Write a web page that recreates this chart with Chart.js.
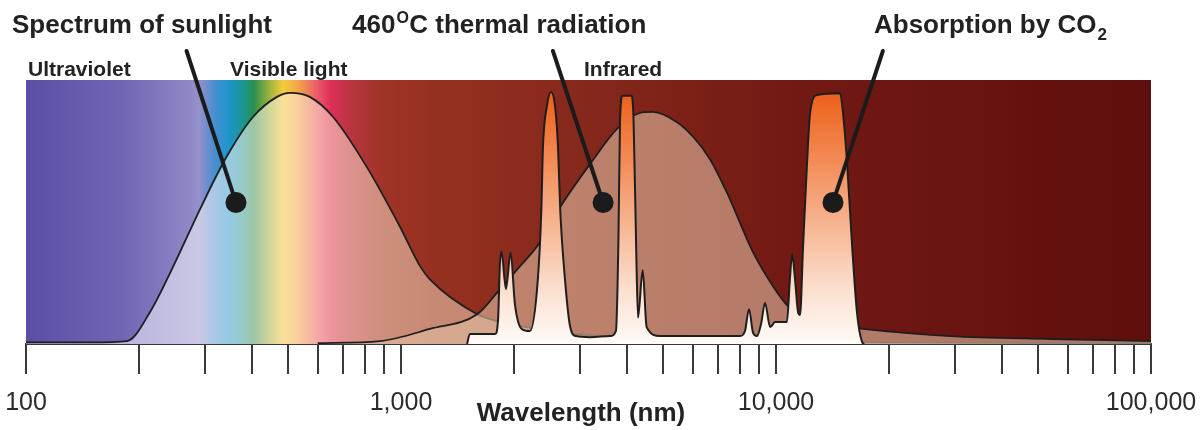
<!DOCTYPE html>
<html>
<head>
<meta charset="utf-8">
<title>Spectrum of sunlight</title>
<script src="https://cdn.jsdelivr.net/npm/chart.js@4.4.1/dist/chart.umd.min.js"></script>
<style>
  html, body { margin: 0; padding: 0; background: #fff; }
  #wrap { width: 1201px; height: 430px; }
</style>
</head>
<body>
<div id="wrap"><canvas id="spectrumChart" width="1201" height="430"></canvas></div>
<script>
// wavelengths in nm, heights in % of the coloured band
const sunWavelength = [100, 150, 186, 214, 247, 291, 343, 403, 467, 506, 571, 659, 811, 993, 1125, 1194, 1596, 1803, 2500, 3400, 6300, 20000, 100000];
const sunValue      = [0.6, 0.6, 1.1, 12, 29.4, 51, 71, 86, 93.6, 95.1, 93.6, 86, 67, 44.5, 29.4, 24.5, 11.3, 8.7, 5, 3, 1.5, 0.6, 0.3];

const thermalWavelength = [600, 879, 1194, 1596, 1837, 2075, 2306, 2706, 3254, 3767, 4337, 4697, 5445, 6010, 6668, 7396, 8688, 9817, 10765, 11590, 13930, 17070, 29100, 53800, 100000];
const thermalValue      = [0.3, 1.1, 5.7, 11.3, 20.8, 29.4, 37, 53.6, 69.8, 81.5, 87.5, 87.9, 84, 78.5, 70, 57.4, 34.7, 21.9, 14.3, 11, 7.5, 5.7, 3, 1.9, 1.1];

const absorbWavelength = [1500, 1527, 1546, 1783, 1816, 1835, 1853, 1905, 1960, 2013, 2098, 2207, 2317, 2366, 2391, 2449, 2512, 2576, 2622, 2660, 2737, 2823, 2929, 3191, 3608, 3743, 3801, 3838, 3896, 4118, 4170, 4233, 4285, 4411, 4519, 4909, 6266, 7100, 8020, 8265, 8472, 8688, 8896, 9120, 9349, 9647, 9943, 10690, 10890, 11040, 11240, 11450, 11590, 11810, 12100, 12330, 12860, 14820, 15090, 15470, 15960, 16440, 16960, 17190];
const absorbValue      = [0, 3.8, 3.8, 3.8, 10, 30, 35, 20.8, 34.7, 15, 5.7, 4.9, 24.5, 50, 74.7, 90, 95.5, 90, 74.7, 50, 24.5, 6.8, 3, 2.6, 3, 5, 40, 85, 94, 94, 85, 40, 10, 28, 6.4, 3, 3, 3, 3, 4.9, 13.2, 4.2, 3, 7.5, 15.5, 6.4, 8.3, 8.3, 24.5, 34, 24.5, 12, 11, 37, 68.7, 87.5, 94.3, 95, 87.5, 68.7, 37, 12, 0.8, 0];

const tickValues = [100, 200, 300, 400, 500, 600, 700, 800, 900, 1000, 2000, 3000, 4000, 5000, 6000, 7000, 8000, 9000, 10000, 20000, 30000, 40000, 50000, 60000, 70000, 80000, 90000, 100000];
const majorTicks = [100, 1000, 10000, 100000];
const majorLabels = ['100', '1,000', '10,000', '100,000'];

// colours of the band behind the curves, keyed by wavelength
const bandStops = [
  [100, '#5a4ea4'], [180, '#7066b4'], [250, '#8780c2'], [290, '#958fca'],
  [315, '#4f8ecf'], [345, '#1f95cf'], [380, '#1a9690'], [405, '#2b8e4c'],
  [440, '#8fae40'], [485, '#f4cd3a'], [530, '#f2a64a'], [600, '#ea586a'],
  [650, '#de2f5a'], [730, '#bb3540'], [900, '#9e3426'], [1300, '#94301f'],
  [3000, '#86281c'], [10000, '#741a14'], [100000, '#5e0e0c']
];

// tint of the sunlight curve, keyed by wavelength
const sunTint = [
  [180, 'rgba(243, 242, 254, 0.56)'],
  [320, 'rgba(248, 246, 250, 0.55)'],
  [500, 'rgba(254, 241, 225, 0.55)'],
  [800, 'rgba(252, 228, 208, 0.52)'],
  [1200, 'rgba(250, 225, 200, 0.5)']
];

const FONT = '"Liberation Sans", Arial, Helvetica, sans-serif';

// label pointers: from (wavelength, height) to the dot
const pointers = [
  { from: [268, 111], to: [363, 53.6] },
  { from: [2541, 111], to: [3459, 53.6] },
  { from: [19280, 111], to: [14190, 53.6] }
];

const toPoints = (xs, ys) => xs.map((x, i) => ({ x, y: ys[i] }));

function absorbGradient(context) {
  const chart = context.chart;
  const a = chart.chartArea;
  if (!a) return '#f6a878';
  const g = chart.ctx.createLinearGradient(0, a.top, 0, a.bottom);
  g.addColorStop(0, '#ea5a18');
  g.addColorStop(0.08, '#ee6520');
  g.addColorStop(0.45, '#f5a47a');
  g.addColorStop(0.8, '#fbe0d0');
  g.addColorStop(1, '#fffbf7');
  return g;
}

function sunGradient(context) {
  const chart = context.chart;
  const a = chart.chartArea;
  const x = chart.scales.x;
  if (!a || !x) return 'rgba(252, 235, 225, 0.55)';
  const g = chart.ctx.createLinearGradient(a.left, 0, a.right, 0);
  sunTint.forEach(([w, c]) => {
    const t = (x.getPixelForValue(w) - a.left) / (a.right - a.left);
    g.addColorStop(Math.min(1, Math.max(0, t)), c);
  });
  return g;
}

const spectrumBand = {
  id: 'spectrumBand',
  beforeDatasetsDraw(chart) {
    const { ctx, chartArea: a, scales: { x } } = chart;
    const g = ctx.createLinearGradient(a.left, 0, a.right, 0);
    bandStops.forEach(([w, c]) => {
      const t = (x.getPixelForValue(w) - a.left) / (a.right - a.left);
      g.addColorStop(Math.min(1, Math.max(0, t)), c);
    });
    ctx.save();
    ctx.fillStyle = g;
    ctx.fillRect(a.left, a.top, a.right - a.left, a.bottom - a.top);
    ctx.restore();
  }
};

const pointerMarks = {
  id: 'pointerMarks',
  afterDatasetsDraw(chart) {
    const { ctx, scales: { x, y } } = chart;
    ctx.save();
    ctx.strokeStyle = '#1b1b1b';
    ctx.fillStyle = '#1b1b1b';
    ctx.lineWidth = 4;
    ctx.lineCap = 'round';
    pointers.forEach(p => {
      const x0 = x.getPixelForValue(p.from[0]), y0 = y.getPixelForValue(p.from[1]);
      const x1 = x.getPixelForValue(p.to[0]), y1 = y.getPixelForValue(p.to[1]);
      ctx.beginPath();
      ctx.moveTo(x0, y0);
      ctx.lineTo(x1, y1);
      ctx.stroke();
      ctx.beginPath();
      ctx.arc(x1, y1, 10.5, 0, Math.PI * 2);
      ctx.fill();
    });
    ctx.restore();
  }
};

const labels = {
  id: 'labels',
  afterDraw(chart) {
    const ctx = chart.ctx;
    ctx.save();
    ctx.fillStyle = '#222';
    ctx.textBaseline = 'alphabetic';
    ctx.textAlign = 'left';

    const big = 'bold 26px ' + FONT;
    const small = 'bold 16px ' + FONT;

    ctx.font = big;
    ctx.fillText('Spectrum of sunlight', 12, 33);

    let x = 352;
    ctx.fillText('460', x, 33);
    x += ctx.measureText('460').width + 1;
    ctx.font = small;
    ctx.fillText('O', x, 23);
    x += ctx.measureText('O').width + 0.5;
    ctx.font = big;
    ctx.fillText('C thermal radiation', x, 33);

    x = 874;
    ctx.fillText('Absorption by CO', x, 33);
    x += ctx.measureText('Absorption by CO').width + 1;
    ctx.font = 'bold 17px ' + FONT;
    ctx.fillText('2', x, 40);

    ctx.font = 'bold 21px ' + FONT;
    ctx.fillText('Ultraviolet', 28, 76);
    ctx.fillText('Visible light', 230, 76);
    ctx.fillText('Infrared', 584, 76);

    ctx.font = big;
    ctx.textAlign = 'center';
    ctx.fillText('Wavelength (nm)', 581, 421);
    ctx.restore();
  }
};

const ctx = document.getElementById('spectrumChart').getContext('2d');
const spectrumChart = new Chart(ctx, {
  type: 'line',
  data: {
    datasets: [
      {
        label: 'Absorption by CO2',
        data: toPoints(absorbWavelength, absorbValue),
        borderColor: '#1e1e1e',
        borderWidth: 2,
        backgroundColor: absorbGradient,
        fill: 'origin'
      },
      {
        label: '460°C thermal radiation',
        data: toPoints(thermalWavelength, thermalValue),
        borderColor: '#1e1e1e',
        borderWidth: 1.8,
        backgroundColor: 'rgba(225, 188, 162, 0.6)',
        fill: 'origin'
      },
      {
        label: 'Spectrum of sunlight',
        data: toPoints(sunWavelength, sunValue),
        borderColor: '#1e1e1e',
        borderWidth: 1.8,
        backgroundColor: sunGradient,
        fill: 'origin'
      }
    ]
  },
  options: {
    responsive: false,
    animation: false,
    layout: { padding: { left: 26, right: 50, top: 80, bottom: 0 } },
    elements: {
      point: { radius: 0, hoverRadius: 0 },
      line: { cubicInterpolationMode: 'monotone', borderJoinStyle: 'round' }
    },
    plugins: {
      legend: { display: false },
      tooltip: { enabled: false },
      filler: { drawTime: 'beforeDatasetDraw' }
    },
    scales: {
      x: {
        type: 'logarithmic',
        min: 100,
        max: 100000,
        z: 1,
        afterBuildTicks: (scale) => {
          scale.ticks = tickValues.map(v => ({ value: v }));
        },
        afterFit: (scale) => {
          scale.height = 86;
          scale.paddingLeft = 0;
          scale.paddingRight = 0;
        },
        grid: {
          display: true,
          drawOnChartArea: false,
          drawTicks: true,
          tickLength: 30,
          color: '#3a3a3a',
          lineWidth: 2
        },
        border: { display: true, color: '#3a3a3a', width: 2 },
        ticks: {
          autoSkip: false,
          maxRotation: 0,
          minRotation: 0,
          padding: 14,
          color: '#2b2b2b',
          font: { family: FONT, size: 25 },
          callback: (value) => {
            const i = majorTicks.indexOf(Number(value));
            return i >= 0 ? majorLabels[i] : '';
          }
        }
      },
      y: { type: 'linear', min: 0, max: 100, display: false }
    }
  },
  plugins: [spectrumBand, pointerMarks, labels]
});
</script>
</body>
</html>
